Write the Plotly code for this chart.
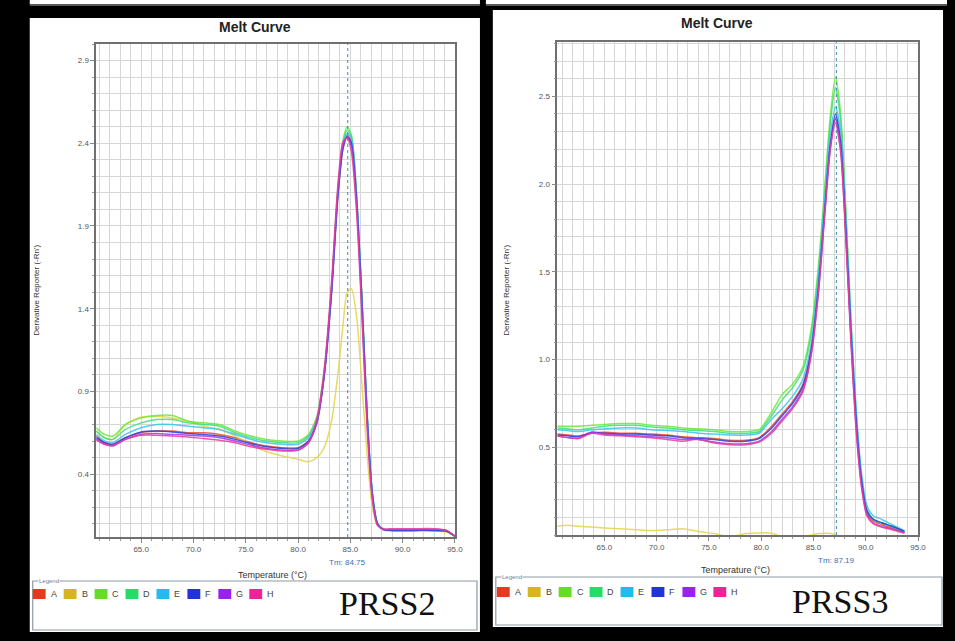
import plotly.graph_objects as go

# ---------------- data ----------------
WELLS = ["A", "B", "C", "D", "E", "F", "G", "H"]
LEGEND_COLORS = ["#e8381e", "#d8b41e", "#66dd22", "#22dd66", "#22bbee", "#2233dd", "#9922ee", "#ee2299"]
LINE_COLORS = ["#f04a2a", "#e6d44a", "#6ee83a", "#3ee07a", "#3ec4ec", "#2a3ee0", "#9a3ae8", "#ec3a9a"]

TEMP_L = [60.7, 61.5, 62.3, 63.5, 65, 66.5, 68, 69.5, 71, 72.5, 74, 75.5, 77, 78.5, 80, 81,
          81.8, 82.5, 83.2, 83.8, 84.3, 84.7, 85.1, 85.6, 86.1, 86.6, 87.1, 87.6, 88.2, 89, 91, 93, 94.2, 95]
PRSS2_A = [0.63, 0.59, 0.58, 0.62, 0.65, 0.66, 0.66, 0.65, 0.65, 0.64, 0.62, 0.59, 0.57, 0.56, 0.56, 0.60,
           0.71, 0.99, 1.49, 2.07, 2.37, 2.45, 2.41, 2.06, 1.46, 0.76, 0.28, 0.10, 0.065, 0.06, 0.06, 0.06, 0.055, 0.025]
PRSS2_B = [0.66, 0.62, 0.61, 0.70, 0.745, 0.75, 0.74, 0.72, 0.69, 0.67, 0.63, 0.58, 0.535, 0.51, 0.49, 0.475,
           0.50, 0.56, 0.72, 1.00, 1.30, 1.50, 1.52, 1.35, 0.95, 0.52, 0.20, 0.09, 0.06, 0.055, 0.055, 0.055, 0.05, 0.02]
PRSS2_C = [0.68, 0.64, 0.63, 0.70, 0.74, 0.755, 0.755, 0.72, 0.71, 0.70, 0.66, 0.63, 0.61, 0.60, 0.60, 0.64,
           0.75, 1.03, 1.53, 2.12, 2.42, 2.50, 2.45, 2.08, 1.47, 0.76, 0.28, 0.10, 0.065, 0.06, 0.06, 0.06, 0.055, 0.025]
PRSS2_D = [0.66, 0.62, 0.61, 0.67, 0.71, 0.73, 0.73, 0.71, 0.70, 0.69, 0.65, 0.62, 0.60, 0.59, 0.59, 0.63,
           0.74, 1.02, 1.52, 2.10, 2.40, 2.48, 2.44, 2.07, 1.46, 0.76, 0.28, 0.10, 0.065, 0.06, 0.06, 0.06, 0.055, 0.025]
PRSS2_E = [0.64, 0.60, 0.59, 0.64, 0.68, 0.70, 0.70, 0.69, 0.68, 0.67, 0.64, 0.61, 0.59, 0.58, 0.58, 0.62,
           0.72, 1.00, 1.50, 2.08, 2.39, 2.46, 2.43, 2.08, 1.48, 0.78, 0.30, 0.10, 0.065, 0.06, 0.06, 0.06, 0.055, 0.025]
PRSS2_F = [0.62, 0.59, 0.58, 0.62, 0.655, 0.66, 0.655, 0.645, 0.64, 0.63, 0.61, 0.585, 0.565, 0.555, 0.555, 0.60,
           0.72, 1.00, 1.50, 2.08, 2.37, 2.44, 2.40, 2.05, 1.45, 0.75, 0.28, 0.10, 0.065, 0.06, 0.06, 0.06, 0.055, 0.025]
PRSS2_G = [0.61, 0.58, 0.57, 0.61, 0.64, 0.645, 0.64, 0.635, 0.63, 0.62, 0.60, 0.575, 0.555, 0.545, 0.545, 0.59,
           0.71, 1.00, 1.52, 2.10, 2.39, 2.44, 2.38, 2.02, 1.40, 0.72, 0.26, 0.09, 0.065, 0.065, 0.065, 0.065, 0.06, 0.025]
PRSS2_H = [0.61, 0.58, 0.575, 0.61, 0.635, 0.635, 0.63, 0.625, 0.615, 0.605, 0.59, 0.565, 0.55, 0.54, 0.545, 0.59,
           0.73, 1.03, 1.56, 2.14, 2.41, 2.43, 2.35, 1.98, 1.36, 0.68, 0.25, 0.09, 0.07, 0.07, 0.07, 0.07, 0.06, 0.025]

TEMP_R = [60.5, 61.5, 62.5, 63.8, 65, 66.5, 68, 69.5, 71, 72.5, 74, 75.5, 77, 78.5, 79.8, 81,
          82, 83, 84, 84.8, 85.5, 86.1, 86.6, 87.1, 87.6, 88.1, 88.6, 89.1, 89.6, 90.1, 90.7, 91.5, 92.5, 93.7]
PRSS3_A = [0.575, 0.57, 0.565, 0.58, 0.585, 0.58, 0.58, 0.575, 0.57, 0.56, 0.555, 0.55, 0.54, 0.54, 0.555, 0.62,
           0.69, 0.76, 0.86, 1.07, 1.44, 1.88, 2.22, 2.38, 2.22, 1.72, 1.12, 0.63, 0.30, 0.13, 0.08, 0.06, 0.04, 0.015]
PRSS3_B = [0.05, 0.055, 0.05, 0.045, 0.04, 0.035, 0.03, 0.025, 0.03, 0.035, 0.02, 0.008, -0.01, 0.008, 0.012, 0.01,
           -0.01, -0.02, -0.01, 0.0, 0.008, 0.01, 0.01, 0.0, -0.02, -0.02, -0.02, -0.02, -0.02, -0.02, -0.02, -0.02, -0.02, -0.02]
PRSS3_C = [0.62, 0.62, 0.62, 0.625, 0.63, 0.635, 0.635, 0.625, 0.62, 0.61, 0.605, 0.60, 0.59, 0.59, 0.60, 0.70,
           0.80, 0.86, 0.96, 1.18, 1.55, 2.00, 2.38, 2.61, 2.40, 1.85, 1.20, 0.68, 0.32, 0.15, 0.09, 0.07, 0.05, 0.02]
PRSS3_D = [0.61, 0.605, 0.60, 0.61, 0.62, 0.625, 0.625, 0.615, 0.61, 0.60, 0.595, 0.59, 0.58, 0.58, 0.59, 0.68,
           0.77, 0.84, 0.94, 1.15, 1.52, 1.97, 2.34, 2.55, 2.36, 1.82, 1.18, 0.67, 0.32, 0.15, 0.09, 0.07, 0.05, 0.02]
PRSS3_E = [0.60, 0.595, 0.59, 0.60, 0.605, 0.61, 0.61, 0.60, 0.595, 0.59, 0.58, 0.575, 0.57, 0.57, 0.58, 0.66,
           0.72, 0.79, 0.89, 1.10, 1.48, 1.92, 2.28, 2.44, 2.30, 1.80, 1.20, 0.70, 0.35, 0.17, 0.11, 0.09, 0.06, 0.025]
PRSS3_F = [0.57, 0.565, 0.56, 0.585, 0.58, 0.575, 0.575, 0.57, 0.565, 0.555, 0.55, 0.545, 0.535, 0.535, 0.55, 0.61,
           0.68, 0.75, 0.85, 1.06, 1.43, 1.87, 2.22, 2.40, 2.24, 1.74, 1.14, 0.64, 0.31, 0.14, 0.09, 0.07, 0.05, 0.02]
PRSS3_G = [0.565, 0.555, 0.55, 0.585, 0.575, 0.57, 0.565, 0.56, 0.555, 0.545, 0.545, 0.53, 0.52, 0.52, 0.535, 0.59,
           0.66, 0.73, 0.83, 1.04, 1.40, 1.85, 2.20, 2.37, 2.20, 1.70, 1.10, 0.60, 0.28, 0.12, 0.07, 0.05, 0.035, 0.015]
PRSS3_H = [0.565, 0.555, 0.55, 0.58, 0.57, 0.565, 0.56, 0.555, 0.545, 0.535, 0.545, 0.525, 0.515, 0.515, 0.53, 0.58,
           0.65, 0.72, 0.82, 1.03, 1.40, 1.84, 2.19, 2.35, 2.18, 1.68, 1.08, 0.58, 0.27, 0.11, 0.065, 0.045, 0.03, 0.01]

TM_L = 84.75
TM_R = 87.19
X_TICKS = [65, 70, 75, 80, 85, 90, 95]
Y_TICKS_L = [0.4, 0.9, 1.4, 1.9, 2.4, 2.9]
Y_TICKS_R = [0.5, 1.0, 1.5, 2.0, 2.5]
PANEL_NAMES = ["PRSS2", "PRSS3"]

SERIES_L = [PRSS2_A, PRSS2_B, PRSS2_C, PRSS2_D, PRSS2_E, PRSS2_F, PRSS2_G, PRSS2_H]
SERIES_R = [PRSS3_A, PRSS3_B, PRSS3_C, PRSS3_D, PRSS3_E, PRSS3_F, PRSS3_G, PRSS3_H]

# ---------------- layout helpers ----------------
W, H = 955, 641
def px(x):
    return x / W
def py(y):
    return 1 - y / H

FONT = "Liberation Sans, Arial, sans-serif"
fig = go.Figure()

for i, w in enumerate(WELLS):
    fig.add_trace(go.Scatter(x=TEMP_L, y=SERIES_L[i], mode="lines", name=w, xaxis="x", yaxis="y",
                             line=dict(color=LINE_COLORS[i], width=1.5, shape="spline", smoothing=0.7),
                             opacity=0.85, showlegend=False, hoverinfo="skip"))
for i, w in enumerate(WELLS):
    fig.add_trace(go.Scatter(x=TEMP_R, y=SERIES_R[i], mode="lines", name=w, xaxis="x2", yaxis="y2",
                             line=dict(color=LINE_COLORS[i], width=1.5, shape="spline", smoothing=0.7),
                             opacity=0.85, showlegend=False, hoverinfo="skip"))

GRID = "#d6d6d6"
def xaxis(domain, rng, anchor):
    return dict(domain=domain, range=rng, anchor=anchor, tickvals=X_TICKS, tickformat=".1f",
                showgrid=True, gridcolor=GRID, gridwidth=1, zeroline=False,
                showline=True, mirror=True, linecolor="#707070", linewidth=1.5,
                ticks="outside", ticklen=4, tickcolor="#888",
                tickfont=dict(family=FONT, size=8, color="#555"),
                minor=dict(dtick=1, tick0=60, showgrid=True, gridcolor=GRID, ticks="outside", ticklen=2, tickcolor="#999"))

def yaxis(domain, rng, anchor, tv):
    return dict(domain=domain, range=rng, anchor=anchor, tickvals=tv, tickformat=".1f",
                showgrid=True, gridcolor=GRID, gridwidth=1, zeroline=False,
                showline=True, mirror=True, linecolor="#707070", linewidth=1.5,
                ticks="outside", ticklen=4, tickcolor="#888",
                tickfont=dict(family=FONT, size=8, color="#555"),
                minor=dict(dtick=0.1, tick0=0, showgrid=True, gridcolor=GRID, ticks="outside", ticklen=2, tickcolor="#999"))

fig.update_layout(
    width=W, height=H, margin=dict(l=0, r=0, t=0, b=0),
    paper_bgcolor="black", plot_bgcolor="white",
    xaxis=xaxis([px(97), px(459)], [60.7, 95.02], "y"),
    yaxis=yaxis([py(537), py(44)], [0.02, 3.0], "x", Y_TICKS_L),
    xaxis2=xaxis([px(562), px(926)], [60.5, 95.02], "y2"),
    yaxis2=yaxis([py(535), py(42)], [0.0, 2.81], "x2", Y_TICKS_R),
)

shapes = []
annots = []
# panel backgrounds
for (x0, y0, x1, y1) in [(30, 18, 484, 632), (497, 10, 951, 627), (30, 0, 484, 4), (490, 0, 955, 4)]:
    shapes.append(dict(type="rect", xref="paper", yref="paper", x0=px(x0), x1=px(x1), y0=py(y1), y1=py(y0),
                       fillcolor="white", line=dict(width=0), layer="below"))
for (x0, x1) in [(30, 484), (490, 955)]:
    shapes.append(dict(type="line", xref="paper", yref="paper", x0=px(x0), x1=px(x1), y0=py(5), y1=py(5),
                       line=dict(color="#b0b0b0", width=1)))

# Tm lines
for tm, xr, yr in [(TM_L, "x", "y domain"), (TM_R, "x2", "y2 domain")]:
    shapes.append(dict(type="line", xref=xr, yref=yr, x0=tm, x1=tm, y0=0, y1=1,
                       line=dict(color="#3a8fb0", width=1, dash="dot")))

# panel texts
panels = [
    dict(cx=257, ty=27, plot_l=97, plot_r=459, tm=TM_L, xr="x", tmy=562, xl=275, xly=575, yl=37, yly=290,
         box=(33, 581, 481, 630), sq0=33, lab_y=594, name_x=390, name_y=603),
    dict(cx=723, ty=23, plot_l=562, plot_r=926, tm=TM_R, xr="x2", tmy=560, xl=742, xly=570, yl=511, yly=290,
         box=(500, 577, 950, 625), sq0=501, lab_y=592, name_x=847, name_y=601),
]
for k, p in enumerate(panels):
    annots.append(dict(text="<b>Melt Curve</b>", xref="paper", yref="paper", x=px(p["cx"]), y=py(p["ty"]),
                       showarrow=False, font=dict(family=FONT, size=14, color="#222"), xanchor="center", yanchor="middle"))
    annots.append(dict(text="Tm: %.2f" % p["tm"], xref=p["xr"], yref="paper", x=p["tm"], y=py(p["tmy"]),
                       showarrow=False, font=dict(family=FONT, size=8, color="#3a70b8"), xanchor="center", yanchor="middle"))
    annots.append(dict(text="Temperature (°C)", xref="paper", yref="paper", x=px(p["xl"]), y=py(p["xly"]),
                       showarrow=False, font=dict(family=FONT, size=9, color="#333"), xanchor="center", yanchor="middle"))
    annots.append(dict(text="Derivative Reporter (-Rn')", xref="paper", yref="paper", x=px(p["yl"]), y=py(p["yly"]),
                       showarrow=False, textangle=-90, font=dict(family=FONT, size=8, color="#333"),
                       xanchor="center", yanchor="middle"))
    bx0, by0, bx1, by1 = p["box"]
    shapes.append(dict(type="rect", xref="paper", yref="paper", x0=px(bx0), x1=px(bx1), y0=py(by1), y1=py(by0),
                       fillcolor="white", line=dict(color="#8e9aa6", width=1.2)))
    annots.append(dict(text="Legend", xref="paper", yref="paper", x=px(bx0 + 5), y=py(by0), showarrow=False,
                       bgcolor="white", borderpad=0, font=dict(family=FONT, size=6, color="#6b7f96"),
                       xanchor="left", yanchor="middle"))
    for i, w in enumerate(WELLS):
        sx = p["sq0"] + i * 31.2
        shapes.append(dict(type="rect", xref="paper", yref="paper", x0=px(sx), x1=px(sx + 13),
                           y0=py(p["lab_y"] + 5), y1=py(p["lab_y"] - 5),
                           fillcolor=LEGEND_COLORS[i], line=dict(width=0)))
        annots.append(dict(text=w, xref="paper", yref="paper", x=px(sx + 16), y=py(p["lab_y"]), showarrow=False,
                           font=dict(family=FONT, size=9, color="#444"), xanchor="left", yanchor="middle"))
    annots.append(dict(text=PANEL_NAMES[k], xref="paper", yref="paper", x=px(p["name_x"]), y=py(p["name_y"]),
                       showarrow=False, font=dict(family="Liberation Serif, DejaVu Serif, serif", size=34, color="#111"),
                       xanchor="center", yanchor="middle"))

fig.update_layout(shapes=shapes, annotations=annots)
fig.write_html("out.html", config={"displayModeBar": False},
               post_script="document.body.style.margin='0';document.body.style.background='black';")
